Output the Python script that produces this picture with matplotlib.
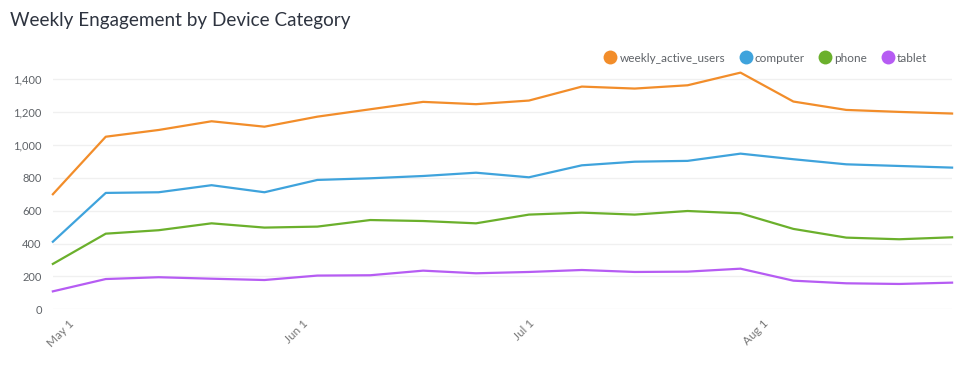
import numpy as np
import pandas as pd
import matplotlib
matplotlib.use("Agg")
import matplotlib.pyplot as plt
import matplotlib.dates as mdates
from matplotlib.lines import Line2D

plt.rcParams['font.family'] = ['Lato', 'DejaVu Sans']

# weekly data points
weeks = pd.date_range("2024-04-29", periods=18, freq="7D")
weekly_active_users = [700, 1050, 1091, 1144, 1111, 1172, 1217, 1262, 1248, 1270,
                       1355, 1343, 1363, 1440, 1264, 1213, 1201, 1191]
computer = [411, 708, 712, 755, 712, 787, 797, 811, 831, 803,
            876, 898, 903, 947, 913, 882, 872, 862]
phone = [276, 460, 481, 523, 497, 503, 543, 537, 523, 576,
         588, 576, 598, 584, 489, 436, 426, 438]
tablet = [109, 184, 195, 186, 178, 205, 207, 235, 219, 227,
          239, 227, 229, 247, 174, 158, 154, 162]

series_names = ["weekly_active_users", "computer", "phone", "tablet"]
series_values = [weekly_active_users, computer, phone, tablet]
colors = ["#F28D2A", "#3FA3DC", "#6BB02C", "#B65CF3"]
y_ticks = [0, 200, 400, 600, 800, 1000, 1200, 1400]

fig = plt.figure(figsize=(9.79, 3.9), dpi=100)
ax = fig.add_axes([0.054, 0.207, 0.9185, 0.611])

for name, vals, c in zip(series_names, series_values, colors):
    ax.plot(weeks, vals, color=c, linewidth=1.6, clip_on=False, zorder=3)

ax.set_xlim(weeks[0], weeks[-1])
ax.set_ylim(0, 1450)
ax.set_yticks(y_ticks)
ax.set_yticklabels([f"{v:,}" for v in y_ticks])
ax.grid(axis="y", color="#f0f0f0", linewidth=1)
ax.set_axisbelow(True)

ax.xaxis.set_major_locator(mdates.MonthLocator())
ax.xaxis.set_major_formatter(mdates.DateFormatter("%b %-d"))
for s in ax.spines.values():
    s.set_visible(False)
ax.tick_params(axis="both", length=0, colors="#5f6368", labelsize=8)
ax.tick_params(axis="y", pad=8)
ax.tick_params(axis="x", pad=6)
plt.setp(ax.get_xticklabels(), rotation=45, ha="right", rotation_mode="anchor",
         fontsize=8.5, color="#777777")

fig.text(0.010, 0.948, "Weekly Engagement by Device Category", fontsize=13.6,
         color="#2e3440", va="center", ha="left")

handles = [Line2D([], [], marker="o", linestyle="", markersize=10, color=c,
                  markeredgewidth=0) for c in colors]
leg = fig.legend(handles, series_names, loc="center right",
                 bbox_to_anchor=(0.958, 0.851), ncol=4, frameon=False,
                 fontsize=8.5, handletextpad=0.3, columnspacing=1.2,
                 handlelength=1.0)
for t in leg.get_texts():
    t.set_color("#5f6368")

fig.savefig("out.png", dpi=100)
